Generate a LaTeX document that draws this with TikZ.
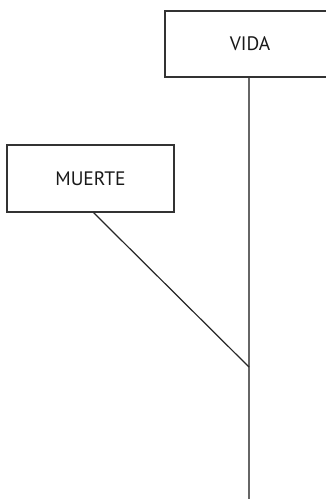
\documentclass[tikz,border=0pt]{standalone}
\usepackage{fontspec}
\setmainfont{PT Sans}
\begin{document}
\begin{tikzpicture}[x=1pt,y=-1pt,
  box/.style={draw=black!80,line width=1.2pt,fill=white,inner sep=0pt,font=\fontsize{19.5}{23}\selectfont,text=black!90},
  trunk/.style={draw=black!60,line width=2pt},
  branch/.style={draw=black!85,line width=1.2pt}]
\useasboundingbox (0,0) rectangle (326,499);
\clip (0,0) rectangle (326,499);
\node[box,minimum width=170pt,minimum height=66pt] (vida) at (250,44) {VIDA};
\node[box,minimum width=167pt,minimum height=67pt] (muerte) at (90.5,178.5) {MUERTE};
\coordinate (joint) at (249,367);
\coordinate (bottom) at (249,505);
\draw[trunk] (vida.south -| joint) -- (bottom);
\draw[branch] (muerte.south) ++(3,0) coordinate (ms) -- (joint);
\end{tikzpicture}
\end{document}
